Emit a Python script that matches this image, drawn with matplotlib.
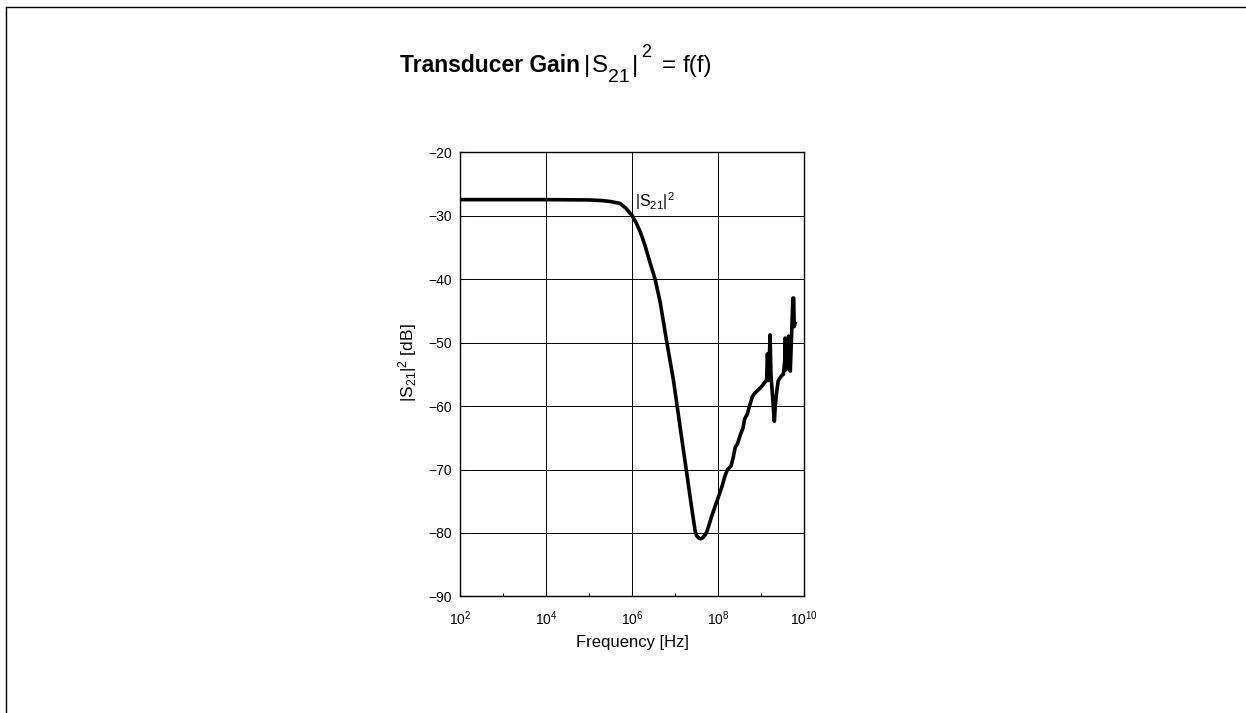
import matplotlib
matplotlib.use("Agg")
import matplotlib.pyplot as plt
from matplotlib.ticker import FixedLocator, NullFormatter
from matplotlib.lines import Line2D

plt.rcParams['font.family'] = ['Liberation Sans', 'DejaVu Sans']
plt.rcParams['mathtext.fontset'] = 'custom'
plt.rcParams['mathtext.rm'] = 'Liberation Sans'
plt.rcParams['mathtext.it'] = 'Liberation Sans:italic'
plt.rcParams['mathtext.bf'] = 'Liberation Sans:bold'

# frequency [Hz] and |S21|^2 [dB]
freq = [1e2, 1e3, 1e4, 1e5, 2.0e5, 3.16e5, 5.25e5, 7.08e5, 1e6, 1.26e6,
        1.58e6, 2.0e6, 2.51e6, 3.43e6, 4.47e6, 6.46e6, 7.94e6, 9.12e6, 1.12e7, 1.41e7,
        1.82e7, 2.34e7, 2.95e7, 3.16e7, 3.55e7, 3.98e7, 4.47e7, 5.01e7, 5.5e7, 7.41e7,
        1e8, 1.26e8, 1.45e8, 1.66e8, 2.0e8, 2.24e8, 2.51e8, 2.82e8, 3.31e8, 3.8e8,
        4.17e8, 4.79e8, 5.5e8, 6.31e8, 7.08e8, 9.55e8, 1.15e9, 1.35e9, 1.41e9, 1.48e9,
        1.55e9, 1.62e9, 1.70e9, 2.04e9, 2.14e9, 2.29e9, 2.51e9, 3.02e9, 3.31e9, 3.55e9,
        3.63e9, 3.72e9, 3.80e9, 3.98e9, 4.17e9, 4.37e9, 4.79e9, 5.25e9, 5.5e9, 5.75e9,
        5.89e9, 6.17e9]
gain = [-27.5, -27.5, -27.5, -27.55, -27.65, -27.8, -28.1, -28.8, -30.0, -31.2,
        -32.7, -34.7, -37.0, -40.0, -43.5, -50.0, -53.5, -55.8, -60.0, -64.8,
        -70.0, -75.2, -79.8, -80.4, -80.8, -80.9, -80.7, -80.3, -79.8, -77.0,
        -74.5, -72.5, -71.0, -70.0, -69.5, -68.2, -66.5, -66.0, -64.5, -63.5,
        -62.0, -61.3, -59.8, -58.5, -58.0, -57.2, -56.5, -55.9, -51.8, -56.0,
        -53.0, -48.8, -55.0, -62.4, -60.0, -58.0, -56.0, -55.2, -55.0, -53.0,
        -49.3, -54.3, -54.3, -54.0, -52.0, -49.0, -54.5, -47.0, -43.0, -43.0,
        -47.5, -47.0]

x_major = [1e2, 1e4, 1e6, 1e8, 1e10]
x_minor = [1e3, 1e5, 1e7, 1e9]
y_ticks = [-90, -80, -70, -60, -50, -40, -30, -20]

W, H = 1246, 713
fig = plt.figure(figsize=(W / 100, H / 100), dpi=100)
ax = fig.add_axes([0.3692, 0.1634, 0.2761, 0.6234])

ax.semilogx(freq, gain, color='black', lw=2.6, zorder=3)
ax.set_xlim(1e2, 1e10)
ax.set_ylim(-90, -20)
ax.xaxis.set_major_locator(FixedLocator(x_major))
ax.xaxis.set_minor_locator(FixedLocator(x_minor))
ax.xaxis.set_minor_formatter(NullFormatter())
ax.set_yticks(y_ticks)

ax.grid(True, which='major', color='black', lw=0.7)
ax.tick_params(which='both', direction='in', labelsize=10, top=False, right=False)
ax.tick_params(which='major', length=3, width=0.8)
ax.tick_params(which='minor', length=2, width=0.8)
ax.tick_params(axis='x', which='major', pad=9)
ax.tick_params(axis='y', which='major', pad=6)
for s in ax.spines.values():
    s.set_linewidth(1.0)

ax.set_xlabel('Frequency [Hz]', fontsize=12, labelpad=5)
ax.set_ylabel(r'|S$_{21}$|$^2$ [dB]', fontsize=12.5)
ax.yaxis.set_label_coords(-0.118, 0.525)

ax.text(1.15e6, -28.6, r'|S$_{21}$|$^2$', fontsize=11.5, ha='left', va='baseline')

# title, pieced together so the sub/superscripts sit like the original
# (text, gap before it in px, baseline in px from top, size, weight)
title_parts = [
    ('Transducer Gain', 0, 71.7, 16.5, 'bold'),
    ('|', 4, 71.7, 17.5, 'normal'),
    ('S', 1.5, 71.7, 17.5, 'normal'),
    ('21', 0.5, 82, 14, 'normal'),
    ('|', 2, 71.7, 17.5, 'normal'),
    ('2', 2.5, 57, 13, 'normal'),
    ('=', 11, 71.7, 17.5, 'normal'),
    ('f(f)', 7, 71.7, 17.5, 'normal'),
]
renderer = fig.canvas.get_renderer()
x = 400.0
for txt, gap, py, size, weight in title_parts:
    x += gap
    t = fig.text(x / W, 1 - py / H, txt, fontsize=size, fontweight=weight,
                 ha='left', va='baseline')
    x += t.get_window_extent(renderer).width

# page frame (top and left edges)
fig.add_artist(Line2D([6 / W, 1.0], [1 - 7 / H, 1 - 7 / H],
                      transform=fig.transFigure, color='black', lw=1.0))
fig.add_artist(Line2D([6 / W, 6 / W], [0.0, 1 - 7 / H],
                      transform=fig.transFigure, color='black', lw=1.0))

fig.savefig('out.png', dpi=100)
